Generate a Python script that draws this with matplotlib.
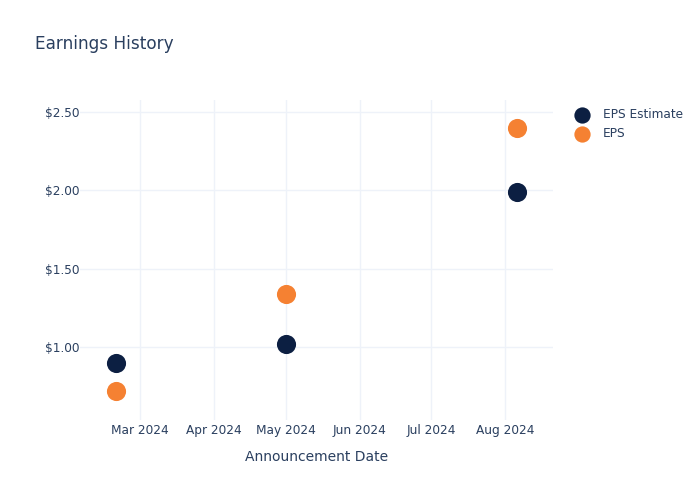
import matplotlib
matplotlib.use("Agg")
import matplotlib.pyplot as plt
import matplotlib.dates as mdates
import numpy as np
import pandas as pd
from matplotlib.ticker import FuncFormatter

# data
dates = pd.to_datetime(["2024-02-20", "2024-05-01", "2024-08-06"])
eps_estimate = [0.90, 1.02, 1.99]
eps_actual = [0.72, 1.34, 2.40]

NAVY = "#0c1f42"
ORANGE = "#f58132"
TEXT = "#2a3f5f"
GRID = "#eef2f9"

plt.rcParams["font.family"] = ["DejaVu Sans"]

fig = plt.figure(figsize=(7, 5), dpi=100)
ax = fig.add_axes([0.1143, 0.16, 0.676, 0.64])

ax.scatter(dates, eps_estimate, s=190, color=NAVY, label="EPS Estimate", zorder=3, linewidths=0)
ax.scatter(dates, eps_actual, s=190, color=ORANGE, label="EPS", zorder=3, linewidths=0)

ax.set_xlim(pd.Timestamp("2024-02-05"), pd.Timestamp("2024-08-21"))
ax.set_ylim(0.534, 2.577)
ax.set_yticks([1.0, 1.5, 2.0, 2.5])
ax.yaxis.set_major_formatter(FuncFormatter(lambda v, _: f"${v:.2f}"))
ax.xaxis.set_major_locator(mdates.MonthLocator(bymonth=range(3, 9)))
ax.xaxis.set_major_formatter(mdates.DateFormatter("%b %Y"))

ax.grid(True, color=GRID, linewidth=1)
ax.set_axisbelow(True)
for sp in ax.spines.values():
    sp.set_visible(False)
ax.tick_params(length=0, colors=TEXT, labelsize=8.7)
ax.tick_params(axis="y", pad=0.5)
ax.tick_params(axis="x", pad=3)

ax.set_xlabel("Announcement Date", color=TEXT, fontsize=10.0, labelpad=9)
fig.text(0.05, 0.912, "Earnings History", color=TEXT, fontsize=12.2, va="center")

leg = ax.legend(loc="upper left", bbox_to_anchor=(1.026, 0.99), frameon=False,
                fontsize=8.7, labelcolor=TEXT, handletextpad=0.7,
                borderaxespad=0, labelspacing=0.5, markerscale=0.85)

fig.savefig("out.png", dpi=100, facecolor="white")
